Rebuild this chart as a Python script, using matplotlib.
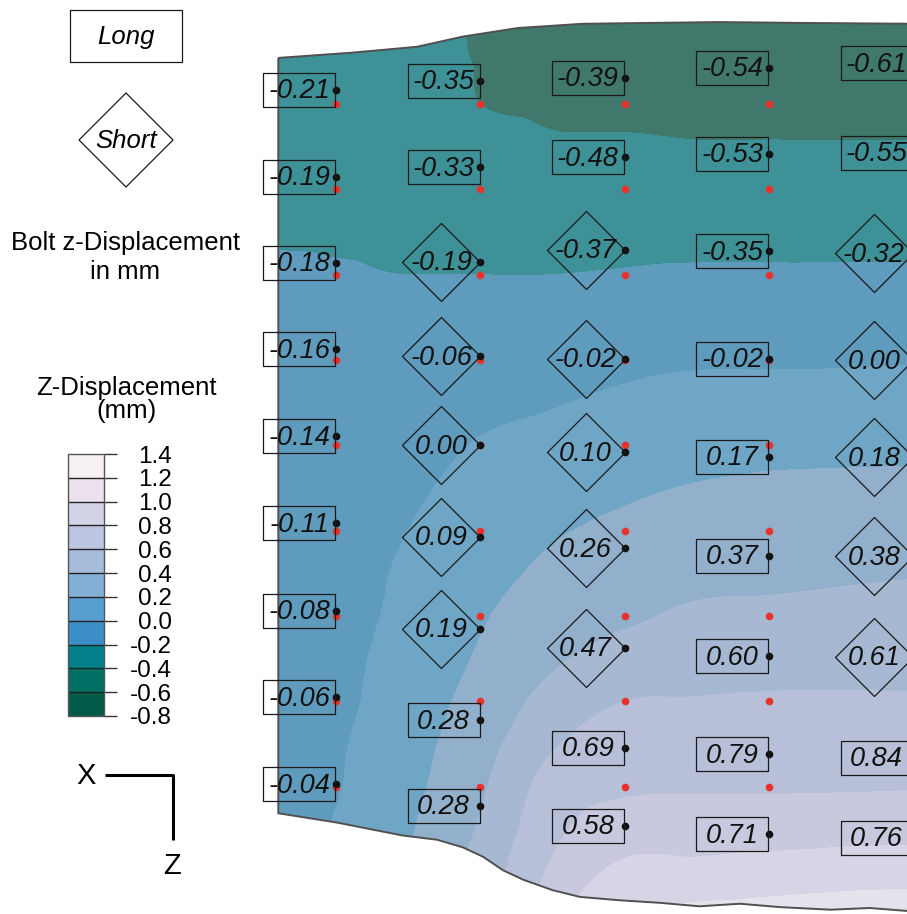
import numpy as np
import matplotlib
matplotlib.use("Agg")
import matplotlib.pyplot as plt
import matplotlib.tri as mtri
from matplotlib.colors import ListedColormap, BoundaryNorm
from matplotlib.cm import ScalarMappable
from matplotlib.patches import Polygon, Rectangle
from matplotlib.path import Path
from matplotlib.transforms import offset_copy

plt.rcParams['font.family'] = ['Liberation Sans', 'DejaVu Sans']

# bolt z-displacement in mm, one list per bolt column (top row first)
col0_disp = [-0.21, -0.19, -0.18, -0.16, -0.14, -0.11, -0.08, -0.06, -0.04]
col1_disp = [-0.35, -0.33, -0.19, -0.06, 0.00, 0.09, 0.19, 0.28, 0.28]
col2_disp = [-0.39, -0.48, -0.37, -0.02, 0.10, 0.26, 0.47, 0.69, 0.58]
col3_disp = [-0.54, -0.53, -0.35, -0.02, 0.17, 0.37, 0.60, 0.79, 0.71]
col4_disp = [-0.61, -0.55, -0.32, 0.00, 0.18, 0.38, 0.61, 0.84, 0.76]

# bolt type per row: L = long bolt, S = short bolt
col0_kind = "LLLLLLLLL"
col1_kind = "LLSSSSSLL"
col2_kind = "LLSSSSSLL"
col3_kind = "LLLLLLLLL"
col4_kind = "LLSSSSSLL"

bolt_disp = [col0_disp, col1_disp, col2_disp, col3_disp, col4_disp]
bolt_kind = [col0_kind, col1_kind, col2_kind, col3_kind, col4_kind]

# plate z-displacement (mm) at grid nodes, in bolt-spacing units
field_x = [-0.4, 0.0, 0.5, 1.0, 1.5, 2.0, 2.5, 3.0, 4.0]
field_y = [-1.0, -0.5, 0.0, 0.5, 1.0, 1.5, 2.0, 2.5, 3.0, 3.5, 4.0,
           4.5, 5.0, 5.5, 6.0, 6.5, 7.0, 7.5, 8.0, 8.5, 9.0, 9.5]
field_z = [
    [-0.32, -0.33, -0.35, -0.42, -0.53, -0.55, -0.57, -0.57, -0.56],
    [-0.30, -0.31, -0.33, -0.41, -0.48, -0.50, -0.51, -0.51, -0.50],
    [-0.28, -0.29, -0.31, -0.40, -0.43, -0.44, -0.45, -0.45, -0.45],
    [-0.26, -0.27, -0.28, -0.34, -0.38, -0.38, -0.39, -0.39, -0.39],
    [-0.24, -0.25, -0.26, -0.29, -0.32, -0.32, -0.32, -0.32, -0.32],
    [-0.21, -0.22, -0.23, -0.25, -0.26, -0.25, -0.25, -0.25, -0.25],
    [-0.19, -0.19, -0.20, -0.20, -0.20, -0.19, -0.18, -0.18, -0.18],
    [-0.18, -0.18, -0.16, -0.15, -0.14, -0.12, -0.10, -0.10, -0.10],
    [-0.17, -0.16, -0.13, -0.10, -0.07, -0.04, -0.02, -0.02, -0.01],
    [-0.16, -0.15, -0.10, -0.04, -0.01, 0.03, 0.06, 0.07, 0.07],
    [-0.14, -0.13, -0.06, 0.01, 0.05, 0.10, 0.13, 0.15, 0.16],
    [-0.13, -0.12, -0.03, 0.05, 0.11, 0.17, 0.21, 0.23, 0.24],
    [-0.12, -0.10, 0.00, 0.09, 0.18, 0.24, 0.28, 0.29, 0.31],
    [-0.11, -0.08, 0.03, 0.13, 0.24, 0.31, 0.35, 0.36, 0.39],
    [-0.10, -0.07, 0.05, 0.18, 0.31, 0.37, 0.43, 0.44, 0.47],
    [-0.08, -0.05, 0.08, 0.22, 0.37, 0.48, 0.52, 0.53, 0.54],
    [-0.07, -0.04, 0.10, 0.27, 0.47, 0.60, 0.61, 0.62, 0.62],
    [-0.06, -0.02, 0.13, 0.32, 0.58, 0.69, 0.69, 0.70, 0.71],
    [-0.05, -0.01, 0.15, 0.37, 0.68, 0.77, 0.78, 0.78, 0.79],
    [-0.04, 0.01, 0.18, 0.42, 0.75, 0.90, 0.90, 0.91, 0.93],
    [-0.02, 0.02, 0.20, 0.48, 0.83, 1.05, 1.06, 1.09, 1.13],
    [-0.01, 0.03, 0.23, 0.53, 0.90, 1.21, 1.26, 1.28, 1.30],
]

# plate outline (bolt-spacing units)
plate_top_x = [-0.40, 0.10, 0.56, 0.88, 1.26, 1.71, 2.18, 2.66, 3.22, 4.00]
plate_top_y = [-0.54, -0.60, -0.67, -0.79, -0.89, -0.94, -0.95, -0.96, -0.95, -0.94]
plate_bot_x = [-0.40, 0.01, 0.46, 0.70, 0.88, 1.02, 1.16, 1.30, 1.50, 1.69,
               1.97, 2.25, 2.52, 2.80, 3.08, 3.43, 3.70, 4.00]
plate_bot_y = [8.31, 8.42, 8.57, 8.62, 8.71, 8.82, 8.98, 9.09, 9.21, 9.29,
               9.33, 9.36, 9.40, 9.37, 9.41, 9.44, 9.42, 9.46]

levels = [-0.8, -0.6, -0.4, -0.2, 0.0, 0.2, 0.4, 0.6, 0.8, 1.0, 1.2, 1.4]

legend_colors = ['#035a49', '#016f63', '#03808a', '#3b8fc6', '#579fcf', '#85b0d6',
                 '#a5bcda', '#bcc5e2', '#d3d3e8', '#ebe0ee', '#f6f0f5']
plate_colors = ['#2f5f52', '#40796c', '#3f9198', '#5e9bbd', '#6fa6c5', '#92b0cc',
                '#a6b8d2', '#b8c0d9', '#c8c9de', '#d8d4e5', '#e6e2ec']

# pixels per bolt spacing on the page, and bolt dot shift per mm
px_per_col = 144.25
px_per_row = 85.35
disp_scale = 67 / px_per_row

fig = plt.figure(figsize=(9.07, 9.14), dpi=100)

# ---- plate view ----
ax = fig.add_axes([0, 0, 1, 1])
ax.set_xlim(-336 / px_per_col, 571 / px_per_col)
ax.set_ylim(810 / px_per_row, -104 / px_per_row)
ax.axis('off')

gx, gy = np.meshgrid(field_x, field_y)
z = np.array(field_z).ravel()
tri = mtri.Triangulation(gx.ravel(), gy.ravel())
interp = mtri.CubicTriInterpolator(tri, z, kind='geom')
tri_f, z_f = mtri.UniformTriRefiner(tri).refine_field(z, triinterpolator=interp, subdiv=4)
cs = ax.tricontourf(tri_f, z_f, levels=levels,
                    cmap=ListedColormap(plate_colors),
                    norm=BoundaryNorm(levels, len(plate_colors)), zorder=1)

outline = np.column_stack([plate_top_x + plate_bot_x[::-1],
                           plate_top_y + plate_bot_y[::-1]])
plate = Polygon(outline, closed=True, fill=False, ec='#505050', lw=1.4, zorder=2)
ax.add_patch(plate)
cs.set_clip_path(plate)

# label shapes drawn as markers, sized in points
box_h = 34 / 73 / 2
box_marker = Path([(-0.5, -box_h), (0.5, -box_h), (0.5, box_h), (-0.5, box_h), (0, 0)], closed=True)
diamond_marker = Path([(-0.5, 0), (0, 0.5), (0.5, 0), (0, -0.5), (0, 0)], closed=True)
box_tr = offset_copy(ax.transData, fig=fig, x=-36.5, y=0, units='dots')
dia_tr = offset_copy(ax.transData, fig=fig, x=-39, y=0, units='dots')
txt_box_tr = offset_copy(ax.transData, fig=fig, x=-36.5, y=-1.5, units='dots')
txt_dia_tr = offset_copy(ax.transData, fig=fig, x=-39, y=-1.5, units='dots')

rows = np.arange(9)
for col, (vals, kinds) in enumerate(zip(bolt_disp, bolt_kind)):
    shifted = rows + np.array(vals) * disp_scale
    xs = np.full(len(rows), col)
    # original bolt positions and displaced ones
    ax.plot(xs, rows, 'o', color='#e8322a', ms=5.5, mec='none', zorder=3)
    ax.plot(xs, shifted, 'o', color='#111111', ms=5.5, mec='none', zorder=4)
    for r in rows:
        if kinds[r] == 'L':
            ax.plot(col, shifted[r], marker=box_marker, ms=73 * 0.72, mfc='none',
                    mec='#1a1a1a', mew=0.9, transform=box_tr, zorder=5)
            tr = txt_box_tr
        else:
            ax.plot(col, shifted[r], marker=diamond_marker, ms=78 * 0.72, mfc='none',
                    mec='#1a1a1a', mew=0.9, transform=dia_tr, zorder=5)
            tr = txt_dia_tr
        ax.text(col, shifted[r], f"{vals[r]:.2f}", transform=tr, ha='center', va='center',
                style='italic', fontsize=19.5, color='#111111', zorder=6)

# ---- key on the left, in page pixels ----
key = fig.add_axes([0, 0, 250 / 907, 1])
key.set_xlim(0, 250)
key.set_ylim(914, 0)
key.axis('off')

key.add_patch(Rectangle((70, 10), 112, 52, fill=False, ec='#1a1a1a', lw=0.9))
key.text(126, 37, "Long", ha='center', va='center', style='italic', fontsize=18.5)
key.add_patch(Polygon([(79, 140), (126, 93), (173, 140), (126, 187)], closed=True,
                      fill=False, ec='#1a1a1a', lw=0.9))
key.text(126, 141, "Short", ha='center', va='center', style='italic', fontsize=18.5)
key.text(125, 243, "Bolt z-Displacement", ha='center', va='center', fontsize=18.5)
key.text(125, 272, "in mm", ha='center', va='center', fontsize=18.5)
key.text(126, 388, "Z-Displacement", ha='center', va='center', fontsize=18.5)
key.text(126, 411, "(mm)", ha='center', va='center', fontsize=18.5)

# X / Z direction marker
key.plot([105, 173], [775, 775], color='k', lw=2.2, solid_capstyle='butt')
key.plot([173, 173], [774, 840], color='k', lw=2.2, solid_capstyle='butt')
key.text(86, 776, "X", ha='center', va='center', fontsize=21)
key.text(172, 866, "Z", ha='center', va='center', fontsize=21)

# ---- colour scale ----
cax = fig.add_axes([68 / 907, 198 / 914, 36 / 907, 262 / 914])
sm = ScalarMappable(norm=BoundaryNorm(levels, len(legend_colors)),
                    cmap=ListedColormap(legend_colors))
cb = fig.colorbar(sm, cax=cax, ticks=levels, drawedges=True)
cb.set_ticklabels([f"{v:.1f}" for v in levels])
cb.outline.set_edgecolor('#555555')
cb.outline.set_linewidth(1.0)
cb.dividers.set_color('#222222')
cb.dividers.set_linewidth(1.0)
cax.tick_params(axis='y', length=9.4, width=1.0, color='#333333', pad=39.6,
                labelsize=17.5, direction='out')
for lbl in cax.get_yticklabels():
    lbl.set_horizontalalignment('right')

fig.savefig("out.png", dpi=100)
